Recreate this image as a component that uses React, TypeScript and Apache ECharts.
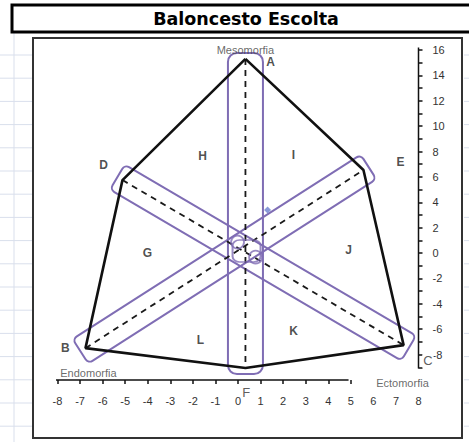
import React, { useEffect, useRef } from 'react';
import * as echarts from 'echarts';

// Axis ticks and labels
const X_TICKS = [-8, -7, -6, -5, -4, -3, -2, -1, 0, 1, 2, 3, 4, 5];
const X_LABELS = [-8, -7, -6, -5, -4, -3, -2, -1, 0, 1, 2, 3, 4, 5, 6, 7, 8];
const Y_TICKS = [-9, -8, -7, -6, -5, -4, -3, -2, -1, 0, 1, 2, 3, 4, 5, 6, 7, 8, 9, 10, 11, 12, 13, 14, 15, 16];
const Y_LABELS = [-8, -6, -4, -2, 0, 2, 4, 6, 8, 10, 12, 14, 16];

// Somatochart outline: A, E, C, F, B, D and back to A
const OUTLINE: [number, number][] = [
  [0.33, 15.3],
  [5.56, 6.54],
  [7.34, -7.25],
  [0.33, -9.06],
  [-6.76, -7.49],
  [-5.12, 5.75],
  [0.33, 15.3],
];

// The three somatotype axes (x1, y1, x2, y2)
const SOMATO_AXES: [number, number, number, number][] = [
  [0.33, 15.3, 0.33, -9.06],
  [-5.12, 5.75, 7.34, -7.25],
  [-6.76, -7.49, 5.56, 6.54],
];

// Drawn axis lines
const X_AXIS_LINE: [number, number][] = [[-8.4, -10], [4.9, -10]];
const Y_AXIS_LINE: [number, number][] = [[8, -9.1], [8, 16.2]];

// Small group markers around the centre
const RING_POINTS: [number, number][] = [[-0.02, 0.87], [0.78, -0.32]];
const BOX_POINTS: [number, number][] = [[0.38, 0.16]];
const DOT_POINTS: [number, number][] = [[1.31, 3.39]];

// Zone and vertex letters
const LETTERS: [string, number, number][] = [
  ['A', 1.44, 15.05],
  ['B', -7.65, -7.49],
  ['D', -5.96, 6.93],
  ['E', 7.2, 7.17],
  ['G', -4.01, 0.0],
  ['H', -1.57, 7.64],
  ['I', 2.46, 7.72],
  ['J', 4.9, 0.24],
  ['K', 2.46, -6.15],
  ['L', -1.66, -6.86],
];
const THIN_LETTERS: [string, number, number][] = [
  ['C', 8.42, -8.5],
  ['F', 0.36, -11.0],
];
const AXIS_NAMES: [string, number, number][] = [
  ['Mesomorfia', 0.33, 16.0],
  ['Endomorfia', -6.63, -9.46],
  ['Ectomorfia', 7.29, -10.24],
];

const PURPLE = '#7f6db4';
const FONT = "'Liberation Sans', Arial, sans-serif";
const BAND_WIDTHS = [35, 29, 29];
const BAND_EXTEND = 6;

export default function App() {
  const ref = useRef<HTMLDivElement>(null);

  useEffect(() => {
    if (!ref.current) return;
    const chart = echarts.init(ref.current, undefined, { renderer: 'svg' });

    const gridLines: any[] = [];
    for (let y = 55; y < 442; y += 23.2) {
      gridLines.push({ type: 'line', shape: { x1: 0, y1: y, x2: 32, y2: y }, style: { stroke: '#d9dfec', lineWidth: 1 } });
      gridLines.push({ type: 'line', shape: { x1: 464, y1: y, x2: 469, y2: y }, style: { stroke: '#d9dfec', lineWidth: 1 } });
    }
    gridLines.push({ type: 'line', shape: { x1: 14, y1: 33, x2: 14, y2: 442 }, style: { stroke: '#d9dfec', lineWidth: 1 } });

    const labelSeries = (rows: [string, number, number][], label: any) => ({
      type: 'scatter',
      symbolSize: 1,
      itemStyle: { color: 'transparent' },
      clip: false,
      silent: true,
      z: 6,
      data: rows.map(([t, x, y]) => ({ name: t, value: [x, y] })),
      label: { show: true, position: 'inside', formatter: (p: any) => p.name, fontFamily: FONT, ...label },
    });

    chart.setOption({
      animation: false,
      backgroundColor: '#ffffff',
      graphic: [
        ...gridLines,
        {
          type: 'rect',
          shape: { x: 12, y: 5, width: 470, height: 27 },
          style: { fill: '#ffffff', stroke: '#000000', lineWidth: 3 },
        },
        {
          type: 'text',
          x: 246,
          y: 19,
          style: {
            text: 'Baloncesto Escolta',
            font: "bold 17.5px 'DejaVu Sans', sans-serif",
            fill: '#000000',
            align: 'center',
            verticalAlign: 'middle',
          },
        },
        {
          type: 'rect',
          shape: { x: 33, y: 38, width: 429, height: 400 },
          style: { fill: '#ffffff', stroke: '#333333', lineWidth: 2 },
        },
      ],
      grid: { left: 57.5, top: 50, width: 361, height: 330, containLabel: false },
      xAxis: {
        type: 'value',
        min: -8,
        max: 8,
        position: 'bottom',
        axisLine: { show: false, onZero: false },
        splitLine: { show: false },
        axisTick: { show: true, customValues: X_TICKS, length: 4, lineStyle: { color: '#111', width: 1.5 } },
        axisLabel: { customValues: X_LABELS, margin: 15, color: '#333', fontSize: 11, fontFamily: FONT },
      },
      yAxis: {
        type: 'value',
        min: -10,
        max: 16,
        position: 'right',
        axisLine: { show: false, onZero: false },
        splitLine: { show: false },
        axisTick: { show: true, customValues: Y_TICKS, length: 4, lineStyle: { color: '#111', width: 1.5 } },
        axisLabel: { customValues: Y_LABELS, margin: 14, color: '#333', fontSize: 11, fontFamily: FONT },
      },
      series: [
        {
          type: 'custom',
          clip: false,
          silent: true,
          z: 2,
          data: SOMATO_AXES,
          encode: { x: [0, 2], y: [1, 3] },
          renderItem: (params: any, api: any) => {
            const p1 = api.coord([api.value(0), api.value(1)]);
            const p2 = api.coord([api.value(2), api.value(3)]);
            const dx = p2[0] - p1[0];
            const dy = p2[1] - p1[1];
            const len = Math.hypot(dx, dy) + 2 * BAND_EXTEND;
            const w = BAND_WIDTHS[params.dataIndex];
            return {
              type: 'rect',
              x: (p1[0] + p2[0]) / 2,
              y: (p1[1] + p2[1]) / 2,
              rotation: -Math.atan2(dy, dx),
              shape: { x: -len / 2, y: -w / 2, width: len, height: w, r: params.dataIndex === 0 ? 9 : 5 },
              style: { fill: 'none', stroke: PURPLE, lineWidth: 2 },
            };
          },
        },
        ...SOMATO_AXES.map((a) => ({
          type: 'line',
          symbol: 'none',
          clip: false,
          silent: true,
          z: 3,
          data: [[a[0], a[1]], [a[2], a[3]]],
          lineStyle: { color: '#1a1a1a', width: 1.8, type: [6, 5] },
        })),
        {
          type: 'line',
          symbol: 'none',
          clip: false,
          silent: true,
          z: 4,
          data: OUTLINE,
          lineStyle: { color: '#111111', width: 2.6 },
        },
        {
          type: 'line',
          symbol: 'none',
          clip: false,
          silent: true,
          z: 4,
          data: X_AXIS_LINE,
          lineStyle: { color: '#111111', width: 1.5 },
        },
        {
          type: 'line',
          symbol: 'none',
          clip: false,
          silent: true,
          z: 4,
          data: Y_AXIS_LINE,
          lineStyle: { color: '#111111', width: 1.5 },
        },
        {
          type: 'scatter',
          symbol: 'circle',
          symbolSize: 13,
          clip: false,
          silent: true,
          z: 5,
          data: RING_POINTS,
          itemStyle: { color: 'transparent', borderColor: PURPLE, borderWidth: 1.8 },
        },
        {
          type: 'scatter',
          symbol: 'roundRect',
          symbolSize: [28, 22],
          clip: false,
          silent: true,
          z: 5,
          data: BOX_POINTS,
          itemStyle: { color: 'transparent', borderColor: PURPLE, borderWidth: 1.8 },
        },
        {
          type: 'scatter',
          symbol: 'diamond',
          symbolSize: 7,
          clip: false,
          silent: true,
          z: 5,
          data: DOT_POINTS,
          itemStyle: { color: '#6b7fd0' },
        },
        labelSeries(LETTERS, { fontSize: 12, fontWeight: 'bold', color: '#222' }),
        labelSeries(THIN_LETTERS, { fontSize: 13, color: '#333', backgroundColor: '#ffffff', padding: [0, 1] }),
        labelSeries(AXIS_NAMES, { fontSize: 11, color: '#444' }),
      ],
    });

    return () => chart.dispose();
  }, []);

  return (
    <div
      ref={ref}
      style={{ position: 'fixed', left: 0, top: 0, width: 469, height: 442, background: '#fff' }}
    />
  );
}
